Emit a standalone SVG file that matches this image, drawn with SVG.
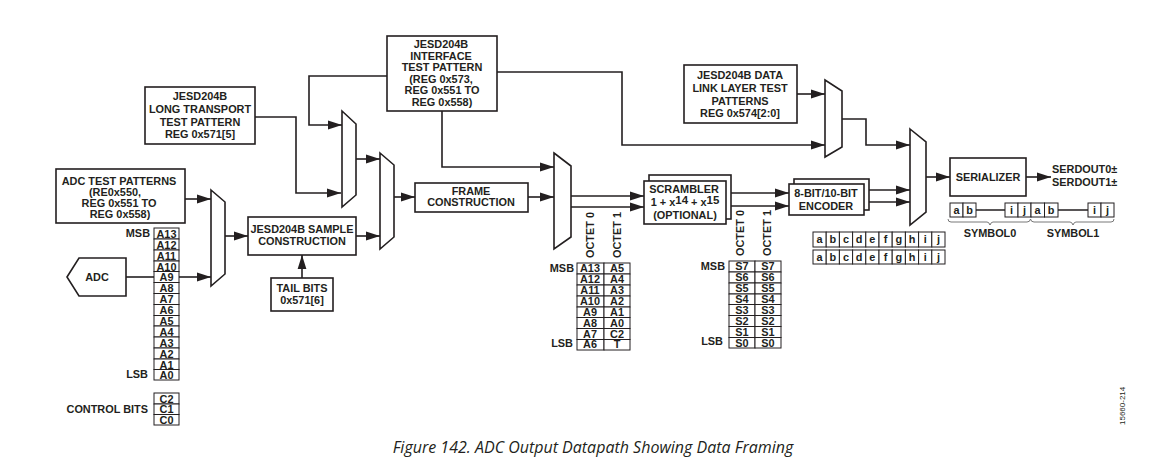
<svg xmlns="http://www.w3.org/2000/svg" width="1156" height="462" viewBox="0 0 1156 462">
<style>
text{font-family:"Liberation Sans",Arial,sans-serif;font-weight:700;font-size:10.9px;fill:#231f20;text-anchor:middle}
.b{fill:#fff;stroke:#231f20;stroke-width:1.6}
.t{fill:#fff;stroke:#231f20;stroke-width:1}
.w{fill:none;stroke:#231f20;stroke-width:1.6}
.c{fill:none;stroke:#231f20;stroke-width:1.6;marker-end:url(#a)}
.e{text-anchor:end}
.o{text-anchor:start}
.cap{font-family:"Open Sans",sans-serif;font-style:italic;font-weight:400;font-size:16px}
.id{font-weight:400;font-size:8px}
</style>
<defs>
<marker id="a" markerUnits="userSpaceOnUse" markerWidth="15" markerHeight="10" refX="14" refY="5" orient="auto"><path d="M0 0.600L14 5L0 9.400z" fill="#231f20"/></marker>
</defs>
<rect width="1156" height="462" fill="#fff"/>
<g id="connectors">
<path class="c" d="M185 199H211"/>
<path class="w" d="M126 277H154"/>
<path class="c" d="M179 277H211"/>
<path class="c" d="M225 236H248"/>
<path class="c" d="M302 278V255"/>
<path class="c" d="M387 76H309V125H342"/>
<path class="c" d="M255 117H296V193H341"/>
<path class="c" d="M356 159H380"/>
<path class="c" d="M356 236H380"/>
<path class="c" d="M394 197H415"/>
<path class="c" d="M528 197H554"/>
<path class="c" d="M442 111V167H554"/>
<path class="c" d="M497 72H622V145H825"/>
<path class="c" d="M797 94H825"/>
<path class="c" d="M842 119H866V145H910"/>
<path class="c" d="M571 196H644"/>
<path class="c" d="M571 207H644"/>
<path class="c" d="M731 193H789"/>
<path class="c" d="M726 206H789"/>
<path class="c" d="M869 190H910"/>
<path class="c" d="M869 202H910"/>
<path class="c" d="M926 177H950"/>
<path class="c" d="M1026 177H1051"/>
</g>
<g id="adc-test"><rect class="b" x="56" y="169" width="129" height="54"/><text x="119" y="185">ADC TEST PATTERNS</text><text x="115" y="196">(RE0x550,</text><text x="119" y="207">REG 0x551 TO</text><text x="120" y="218">REG 0x558)</text></g>
<g id="adc"><path class="b" d="M67 277L79 258H126V296H79Z"/><text x="97" y="281">ADC</text></g>
<g id="mux1"><path class="b" d="M211 190L225 202V274L211 286Z"/></g>
<g id="mux2"><path class="b" d="M342 111L356 124V195L342 207Z"/></g>
<g id="mux3"><path class="b" d="M380 153L394 165V237L380 249Z"/></g>
<g id="mux4"><path class="b" d="M554 153L571 166V237L554 249Z"/></g>
<g id="mux5"><path class="b" d="M825 80L842 91V147L825 157Z"/></g>
<g id="mux6"><path class="b" d="M910 129L926 142V212L910 225Z"/></g>
<g id="sample"><rect class="b" x="248" y="217" width="108" height="38"/><text x="302" y="233">JESD204B SAMPLE</text><text x="302" y="245">CONSTRUCTION</text></g>
<g id="tail"><rect class="b" x="271" y="278" width="62" height="33"/><text x="302" y="292">TAIL BITS</text><text x="302" y="304">0x571[6]</text></g>
<g id="long"><rect class="b" x="145" y="87" width="110" height="57"/><text x="200" y="100">JESD204B</text><text x="200" y="113">LONG TRANSPORT</text><text x="200" y="126">TEST PATTERN</text><text x="200" y="138">REG 0x571[5]</text></g>
<g id="interface"><rect class="b" x="387" y="36" width="110" height="75"/><text x="441" y="48">JESD204B</text><text x="441" y="60">INTERFACE</text><text x="442" y="71">TEST PATTERN</text><text x="441" y="83">(REG 0x573,</text><text x="442" y="94">REG 0x551 TO</text><text x="442" y="106">REG 0x558)</text></g>
<g id="frame"><rect class="b" x="415" y="183" width="113" height="29"/><text x="471" y="195">FRAME</text><text x="471" y="206">CONSTRUCTION</text></g>
<g id="datalink"><rect class="b" x="684" y="65" width="113" height="58"/><text x="740" y="79">JESD204B DATA</text><text x="740" y="92">LINK LAYER TEST</text><text x="740" y="105">PATTERNS</text><text x="740" y="117">REG 0x574[2:0]</text></g>
<g id="scrambler"><rect class="b" x="649" y="175" width="82" height="44"/><rect class="b" x="644" y="181" width="82" height="43"/><text x="684" y="192.500">SCRAMBLER</text><text x="685" y="206">1 + x<tspan font-size="11.500" dy="-2">14</tspan><tspan dy="2"> + x</tspan><tspan font-size="11.500" dy="-2">15</tspan></text><text x="685" y="219">(OPTIONAL)</text></g>
<g id="encoder"><rect class="b" x="794" y="179" width="75" height="31"/><rect class="b" x="789" y="184" width="75" height="31"/><text x="826" y="197">8-BIT/10-BIT</text><text x="826" y="210">ENCODER</text></g>
<g id="serializer"><rect class="b" x="950" y="158" width="76" height="38"/><text x="988" y="181">SERIALIZER</text></g>
<g id="serdout"><text class="o" x="1052" y="173">SERDOUT0±</text><text class="o" x="1052" y="186">SERDOUT1±</text></g>
<g id="table-adc">
<text class="e" x="150" y="237">MSB</text><text class="e" x="148" y="378">LSB</text>
<rect class="t" x="154" y="228" width="25" height="11"/><text x="166.500" y="237.500">A13</text>
<rect class="t" x="154" y="239" width="25" height="11"/><text x="166.500" y="248.500">A12</text>
<rect class="t" x="154" y="250" width="25" height="11"/><text x="166.500" y="259.500">A11</text>
<rect class="t" x="154" y="261" width="25" height="10.500"/><text x="166.500" y="270.500">A10</text>
<rect class="t" x="154" y="271.500" width="25" height="11"/><text x="166.500" y="280.500">A9</text>
<rect class="t" x="154" y="282.500" width="25" height="11"/><text x="166.500" y="291.500">A8</text>
<rect class="t" x="154" y="293.500" width="25" height="11"/><text x="166.500" y="302.500">A7</text>
<rect class="t" x="154" y="304.500" width="25" height="11"/><text x="166.500" y="313.500">A6</text>
<rect class="t" x="154" y="315.500" width="25" height="10.500"/><text x="166.500" y="324.500">A5</text>
<rect class="t" x="154" y="326" width="25" height="11"/><text x="166.500" y="335.500">A4</text>
<rect class="t" x="154" y="337" width="25" height="11"/><text x="166.500" y="346.500">A3</text>
<rect class="t" x="154" y="348" width="25" height="11"/><text x="166.500" y="357.500">A2</text>
<rect class="t" x="154" y="359" width="25" height="10.500"/><text x="166.500" y="368.500">A1</text>
<rect class="t" x="154" y="369.500" width="25" height="10.500"/><text x="166.500" y="378.500">A0</text>
</g>
<g id="table-control">
<text class="e" x="148" y="413">CONTROL BITS</text>
<rect class="t" x="154" y="393" width="25" height="11"/><text x="166.500" y="402.500">C2</text>
<rect class="t" x="154" y="404" width="25" height="10.500"/><text x="166.500" y="412.500">C1</text>
<rect class="t" x="154" y="414.500" width="25" height="10.500"/><text x="166.500" y="423.500">C0</text>
</g>
<g id="table-octets">
<text transform="translate(593.500 258) rotate(-90)" style="text-anchor:start">OCTET 0</text>
<text transform="translate(620.500 258) rotate(-90)" style="text-anchor:start">OCTET 1</text>
<text class="e" x="574" y="272">MSB</text><text class="e" x="573" y="347">LSB</text>
<rect class="t" x="577" y="263" width="27" height="11"/><text x="590" y="272">A13</text><rect class="t" x="604" y="263" width="26" height="11"/><text x="617" y="272">A5</text>
<rect class="t" x="577" y="274" width="27" height="11"/><text x="590" y="283">A12</text><rect class="t" x="604" y="274" width="26" height="11"/><text x="617" y="283">A4</text>
<rect class="t" x="577" y="285" width="27" height="11"/><text x="590" y="294">A11</text><rect class="t" x="604" y="285" width="26" height="11"/><text x="617" y="294">A3</text>
<rect class="t" x="577" y="296" width="27" height="11"/><text x="590" y="305">A10</text><rect class="t" x="604" y="296" width="26" height="11"/><text x="617" y="305">A2</text>
<rect class="t" x="577" y="307" width="27" height="10.500"/><text x="590" y="315.500">A9</text><rect class="t" x="604" y="307" width="26" height="10.500"/><text x="617" y="315.500">A1</text>
<rect class="t" x="577" y="317.500" width="27" height="11"/><text x="590" y="326.500">A8</text><rect class="t" x="604" y="317.500" width="26" height="11"/><text x="617" y="326.500">A0</text>
<rect class="t" x="577" y="328.500" width="27" height="11"/><text x="590" y="337.500">A7</text><rect class="t" x="604" y="328.500" width="26" height="11"/><text x="617" y="337.500">C2</text>
<rect class="t" x="577" y="339.500" width="27" height="10.500"/><text x="590" y="348">A6</text><rect class="t" x="604" y="339.500" width="26" height="10.500"/><text x="617" y="348">T</text>
</g>
<g id="table-symbols">
<text transform="translate(744 256) rotate(-90)" style="text-anchor:start">OCTET 0</text>
<text transform="translate(771 256) rotate(-90)" style="text-anchor:start">OCTET 1</text>
<text class="e" x="725" y="270">MSB</text><text class="e" x="723" y="345">LSB</text>
<rect class="t" x="729" y="261" width="26" height="11"/><text x="742" y="270">S7</text><rect class="t" x="755" y="261" width="26" height="11"/><text x="768" y="270">S7</text>
<rect class="t" x="729" y="272" width="26" height="11"/><text x="742" y="281">S6</text><rect class="t" x="755" y="272" width="26" height="11"/><text x="768" y="281">S6</text>
<rect class="t" x="729" y="283" width="26" height="11"/><text x="742" y="292">S5</text><rect class="t" x="755" y="283" width="26" height="11"/><text x="768" y="292">S5</text>
<rect class="t" x="729" y="294" width="26" height="10.500"/><text x="742" y="303">S4</text><rect class="t" x="755" y="294" width="26" height="10.500"/><text x="768" y="303">S4</text>
<rect class="t" x="729" y="304.500" width="26" height="11"/><text x="742" y="313.500">S3</text><rect class="t" x="755" y="304.500" width="26" height="11"/><text x="768" y="313.500">S3</text>
<rect class="t" x="729" y="315.500" width="26" height="11"/><text x="742" y="324.500">S2</text><rect class="t" x="755" y="315.500" width="26" height="11"/><text x="768" y="324.500">S2</text>
<rect class="t" x="729" y="326.500" width="26" height="11"/><text x="742" y="335.500">S1</text><rect class="t" x="755" y="326.500" width="26" height="11"/><text x="768" y="335.500">S1</text>
<rect class="t" x="729" y="337.500" width="26" height="10.500"/><text x="742" y="346.500">S0</text><rect class="t" x="755" y="337.500" width="26" height="10.500"/><text x="768" y="346.500">S0</text>
</g>
<g id="bits-row0">
<rect class="t" x="813" y="232" width="13.200" height="15"/><text x="819.600" y="243">a</text>
<rect class="t" x="826.200" y="232" width="13.200" height="15"/><text x="832.800" y="243">b</text>
<rect class="t" x="839.400" y="232" width="13.200" height="15"/><text x="846" y="243">c</text>
<rect class="t" x="852.600" y="232" width="13.200" height="15"/><text x="859.200" y="243">d</text>
<rect class="t" x="865.800" y="232" width="13.200" height="15"/><text x="872.400" y="243">e</text>
<rect class="t" x="879" y="232" width="13.200" height="15"/><text x="885.600" y="243">f</text>
<rect class="t" x="892.200" y="232" width="13.200" height="15"/><text x="898.800" y="243">g</text>
<rect class="t" x="905.400" y="232" width="13.200" height="15"/><text x="912" y="243">h</text>
<rect class="t" x="918.600" y="232" width="13.200" height="15"/><text x="925.200" y="243">i</text>
<rect class="t" x="931.800" y="232" width="13.200" height="15"/><text x="938.400" y="243">j</text>
</g>
<g id="bits-row1">
<rect class="t" x="813" y="250" width="13.200" height="14"/><text x="819.600" y="260.500">a</text>
<rect class="t" x="826.200" y="250" width="13.200" height="14"/><text x="832.800" y="260.500">b</text>
<rect class="t" x="839.400" y="250" width="13.200" height="14"/><text x="846" y="260.500">c</text>
<rect class="t" x="852.600" y="250" width="13.200" height="14"/><text x="859.200" y="260.500">d</text>
<rect class="t" x="865.800" y="250" width="13.200" height="14"/><text x="872.400" y="260.500">e</text>
<rect class="t" x="879" y="250" width="13.200" height="14"/><text x="885.600" y="260.500">f</text>
<rect class="t" x="892.200" y="250" width="13.200" height="14"/><text x="898.800" y="260.500">g</text>
<rect class="t" x="905.400" y="250" width="13.200" height="14"/><text x="912" y="260.500">h</text>
<rect class="t" x="918.600" y="250" width="13.200" height="14"/><text x="925.200" y="260.500">i</text>
<rect class="t" x="931.800" y="250" width="13.200" height="14"/><text x="938.400" y="260.500">j</text>
</g>
<g id="symbols">
<path class="w" d="M976 210H1005M1058 210H1088"/>
<rect class="t" x="950" y="203" width="13" height="14"/><text x="956.500" y="214">a</text>
<rect class="t" x="963" y="203" width="13" height="14"/><text x="969.500" y="214">b</text>
<rect class="t" x="1005" y="203" width="13" height="14"/><text x="1011.500" y="214">i</text>
<rect class="t" x="1018" y="203" width="13" height="14"/><text x="1024.500" y="214">j</text>
<rect class="t" x="1031" y="203" width="13.500" height="14"/><text x="1037.500" y="214">a</text>
<rect class="t" x="1044.500" y="203" width="13.500" height="14"/><text x="1051" y="214">b</text>
<rect class="t" x="1088" y="203" width="13" height="14"/><text x="1094.500" y="214">i</text>
<rect class="t" x="1101" y="203" width="13" height="14"/><text x="1107.500" y="214">j</text>
<path d="M948 219Q948 222 951 222H987Q989 222 990 225Q991 222 993 222H1027Q1030 222 1030.500 219Q1031 222 1034 222H1070Q1072 222 1073 225Q1074 222 1076 222H1111Q1114 222 1114 219" fill="none" stroke="#555" stroke-width="0.800"/>
<text x="990" y="237">SYMBOL0</text><text x="1073" y="237">SYMBOL1</text>
</g>
<text class="cap" x="593" y="453">Figure 142. ADC Output Datapath Showing Data Framing</text>
<text class="id" transform="translate(1125 425) rotate(-90)" style="text-anchor:start">15660-214</text>
</svg>
